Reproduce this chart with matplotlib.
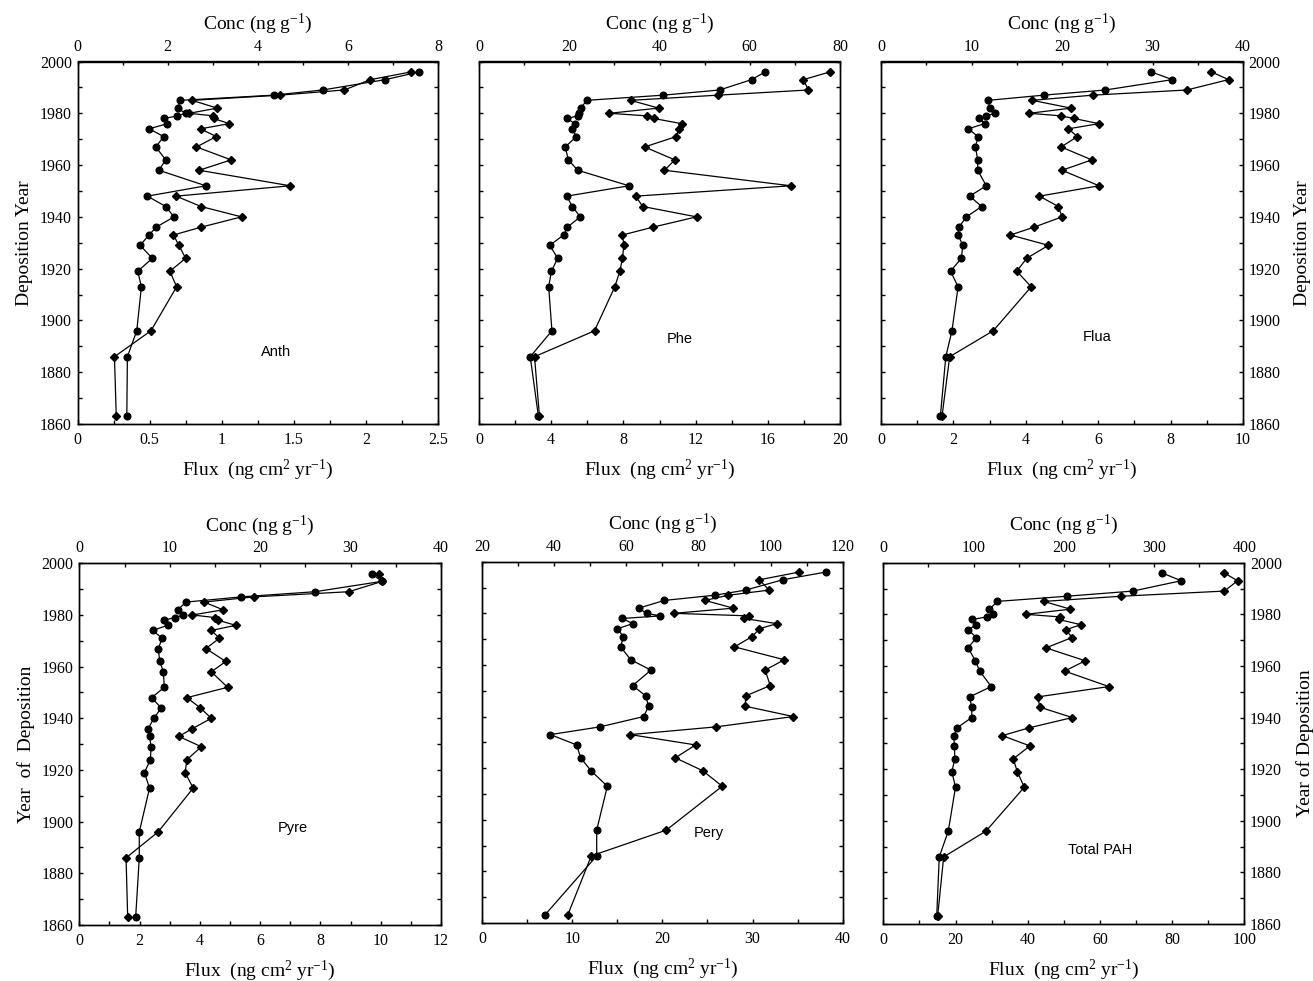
import matplotlib
matplotlib.use("Agg")
import matplotlib.pyplot as plt
from matplotlib.ticker import MultipleLocator, FuncFormatter

plt.rcParams['font.family'] = ['Liberation Serif', 'DejaVu Serif']
plt.rcParams['mathtext.fontset'] = 'custom'
plt.rcParams['mathtext.rm'] = 'Liberation Serif'
plt.rcParams['mathtext.it'] = 'Liberation Serif:italic'

# Sediment core depth horizons (deposition year)
years = [1996, 1993, 1989, 1987, 1985, 1982, 1980, 1979, 1978, 1976, 1974,
         1971, 1967, 1962, 1958, 1952, 1948, 1944, 1940, 1936, 1933, 1929,
         1924, 1919, 1913, 1896, 1886, 1863]

# Flux (ng cm2 yr-1) -> circles, bottom axis; Conc (ng g-1) -> diamonds, top axis
anth_flux = [2.37, 2.135, 1.70, 1.36, 0.714, 0.695, 0.749, 0.693, 0.601, 0.624,
             0.497, 0.598, 0.543, 0.612, 0.564, 0.89, 0.485, 0.612, 0.669, 0.545,
             0.496, 0.434, 0.519, 0.418, 0.443, 0.411, 0.346, 0.342]
anth_conc = [7.41, 6.50, 5.92, 4.49, 2.54, 3.10, 2.48, 3.01, 3.02, 3.37, 2.73,
             3.08, 2.64, 3.41, 2.70, 4.72, 2.19, 2.74, 3.64, 2.74, 2.13, 2.25,
             2.40, 2.05, 2.20, 1.63, 0.82, 0.86]

phe_flux = [15.86, 15.1, 13.33, 10.21, 5.96, 5.65, 5.54, 5.47, 4.89, 5.30, 5.17,
            5.39, 4.78, 4.95, 5.47, 8.31, 4.86, 5.17, 5.61, 4.89, 4.69, 3.92,
            4.36, 4.01, 3.86, 4.04, 2.84, 3.29]
phe_conc = [77.8, 71.9, 73.0, 52.95, 33.6, 39.8, 28.9, 37.2, 38.7, 44.9, 44.3,
            43.7, 36.7, 43.4, 41.1, 69.1, 34.7, 36.3, 48.2, 38.5, 31.8, 32.1,
            31.8, 31.2, 30.1, 25.6, 12.3, 13.4]

flua_flux = [7.46, 8.05, 6.20, 4.49, 2.96, 3.00, 3.16, 2.91, 2.71, 2.86, 2.41,
             2.68, 2.61, 2.67, 2.67, 2.91, 2.45, 2.78, 2.36, 2.15, 2.13, 2.26,
             2.22, 1.92, 2.13, 1.96, 1.79, 1.64]
flua_conc = [36.5, 38.4, 33.8, 23.4, 16.7, 21.0, 16.4, 19.9, 21.3, 24.1, 20.7,
             21.7, 19.9, 23.3, 20.0, 24.1, 17.5, 19.6, 20.0, 16.9, 14.3, 18.5,
             16.1, 15.0, 16.6, 12.4, 7.59, 6.74]

pyre_flux = [9.71, 10.03, 7.82, 5.37, 3.55, 3.26, 3.45, 3.18, 2.81, 2.93, 2.43,
             2.75, 2.62, 2.67, 2.79, 2.82, 2.40, 2.72, 2.47, 2.29, 2.33, 2.38,
             2.36, 2.16, 2.33, 1.99, 1.99, 1.87]
pyre_conc = [33.1, 33.5, 29.8, 19.3, 13.8, 15.9, 12.5, 15.0, 15.3, 17.3, 14.6,
             15.5, 14.0, 16.2, 14.6, 16.4, 11.9, 13.4, 14.6, 12.5, 11.0, 13.5,
             11.9, 11.7, 12.6, 8.71, 5.17, 5.35]

pery_flux = [38.15, 33.35, 29.24, 25.8, 20.22, 17.38, 18.26, 19.78, 15.56, 16.71,
             15.01, 15.67, 15.38, 16.49, 18.74, 16.71, 18.15, 18.48, 17.93, 13.09,
             7.58, 10.50, 10.94, 12.09, 13.90, 12.72, 12.72, 6.95]
pery_conc = [108.0, 96.9, 99.6, 88.3, 81.8, 89.7, 73.2, 94.1, 92.7, 101.7, 96.9,
             94.9, 90.0, 103.8, 98.5, 99.9, 93.1, 93.0, 106.3, 84.9, 61.1, 79.2,
             73.6, 81.2, 86.6, 71.1, 50.3, 43.75]

total_flux = [77.3, 82.5, 69.1, 50.8, 31.6, 29.4, 30.4, 28.7, 24.6, 25.8, 23.5,
              25.8, 23.5, 25.5, 26.7, 29.9, 23.9, 24.5, 24.5, 20.4, 19.5, 19.7,
              19.8, 19.0, 20.0, 18.0, 15.5, 14.8]
total_conc = [377.8, 392.6, 377.8, 263.3, 177.7, 207.2, 158.1, 195.4, 194.3, 218.7,
              202.4, 209.1, 180.2, 223.8, 200.9, 250.0, 171.0, 173.6, 209.4, 161.4,
              131.9, 162.5, 144.0, 148.5, 156.2, 113.8, 66.9, 60.2]

compound_names = ['Anth', 'Phe', 'Flua', 'Pyre', 'Pery', 'Total PAH']

W, H = 1313, 981
fig = plt.figure(figsize=(W / 100, H / 100), dpi=100)


def rect(left, top, right, bottom):
    return [left / W, 1 - bottom / H, (right - left) / W, (bottom - top) / H]


panels = [
    dict(name=compound_names[0], flux=anth_flux, conc=anth_conc,
         box=(77.5, 61.5, 438, 424), flim=(0, 2.5), fstep=(0.5, 0.25),
         clim=(0, 8), cstep=(2, 1), side='left', ylab='Deposition Year',
         txt=(0.55, 0.20)),
    dict(name=compound_names[1], flux=phe_flux, conc=phe_conc,
         box=(479, 61.5, 840, 424), flim=(0, 20), fstep=(4, 2),
         clim=(0, 80), cstep=(20, 10), side=None, ylab=None,
         txt=(0.557, 0.235)),
    dict(name=compound_names[2], flux=flua_flux, conc=flua_conc,
         box=(881, 61.5, 1243, 424), flim=(0, 10), fstep=(2, 1),
         clim=(0, 40), cstep=(10, 5), side='right', ylab='Deposition Year',
         txt=(0.597, 0.24)),
    dict(name=compound_names[3], flux=pyre_flux, conc=pyre_conc,
         box=(79.3, 563.3, 441, 925), flim=(0, 12), fstep=(2, 1),
         clim=(0, 40), cstep=(10, 5), side='left', ylab='Year  of  Deposition',
         txt=(0.59, 0.268)),
    dict(name=compound_names[4], flux=pery_flux, conc=pery_conc,
         box=(482, 561.7, 842.7, 923), flim=(0, 40), fstep=(10, 5),
         clim=(20, 120), cstep=(20, 10), side=None, ylab=None,
         txt=(0.63, 0.25)),
    dict(name=compound_names[5], flux=total_flux, conc=total_conc,
         box=(883.3, 562.7, 1244.3, 924), flim=(0, 100), fstep=(20, 10),
         clim=(0, 400), cstep=(100, 50), side='right', ylab='Year of Deposition',
         txt=(0.60, 0.205)),
]

fmt = FuncFormatter(lambda v, p: f"{v:g}")
tick_fs = 11.5
label_fs = 14
lw_spine = 1.0

for p in panels:
    ax = fig.add_axes(rect(*p['box']))
    top = ax.twiny()

    ax.plot(p['flux'], years, color='black', lw=0.9, marker='o', ms=4.8,
            mfc='black', mec='black', clip_on=False, zorder=3)
    top.plot(p['conc'], years, color='black', lw=0.9, marker='D', ms=4.0,
             mfc='black', mec='black', clip_on=False, zorder=3)

    ax.set_ylim(1860, 2000)
    ax.set_xlim(*p['flim'])
    top.set_xlim(*p['clim'])

    ax.yaxis.set_major_locator(MultipleLocator(20))
    ax.yaxis.set_minor_locator(MultipleLocator(10))
    ax.xaxis.set_major_locator(MultipleLocator(p['fstep'][0]))
    ax.xaxis.set_minor_locator(MultipleLocator(p['fstep'][1]))
    top.xaxis.set_major_locator(MultipleLocator(p['cstep'][0]))
    top.xaxis.set_minor_locator(MultipleLocator(p['cstep'][1]))
    ax.xaxis.set_major_formatter(fmt)
    top.xaxis.set_major_formatter(fmt)

    ax.tick_params(axis='both', which='both', direction='in', width=1.0,
                   length=3.2, labelsize=tick_fs)
    ax.tick_params(axis='x', which='both', top=False, bottom=True, pad=6)
    ax.tick_params(axis='y', which='both', left=True, right=True, pad=4,
                   labelleft=(p['side'] == 'left'),
                   labelright=(p['side'] == 'right'))
    top.tick_params(axis='x', which='both', direction='in', width=1.0,
                    length=3.2, labelsize=tick_fs, pad=5)

    for a in (ax, top):
        for s in a.spines.values():
            s.set_linewidth(lw_spine)

    ax.set_xlabel(r'Flux  (ng cm$^{2}$ yr$^{-1}$)', fontsize=label_fs, labelpad=7)
    top.set_xlabel(r'Conc (ng g$^{-1}$)', fontsize=label_fs, labelpad=7)
    if p['ylab']:
        if p['side'] == 'right':
            ax.yaxis.set_label_position('right')
            ax.set_ylabel(p['ylab'], fontsize=label_fs, labelpad=10)
        else:
            ax.set_ylabel(p['ylab'], fontsize=label_fs, labelpad=5)

    ax.text(p['txt'][0], p['txt'][1], p['name'], transform=ax.transAxes,
            fontsize=10.5, family=['Liberation Sans', 'DejaVu Sans'],
            ha='center', va='center')

fig.savefig('out.png', dpi=100)
